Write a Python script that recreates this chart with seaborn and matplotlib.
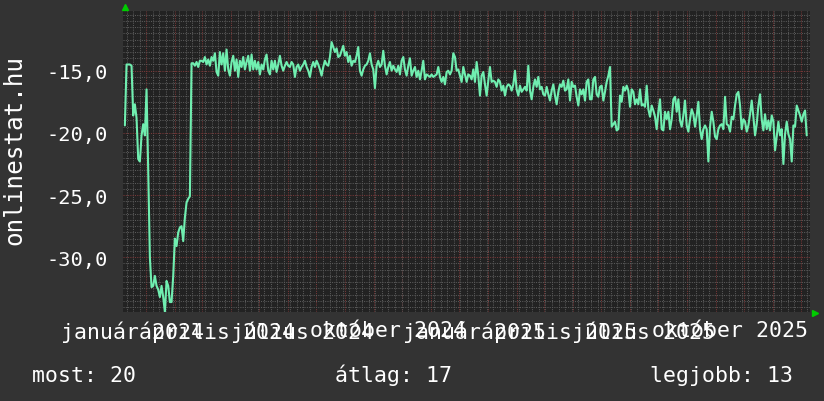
import pandas as pd
import matplotlib
matplotlib.use("Agg")
import matplotlib.pyplot as plt
import matplotlib.dates as mdates
import matplotlib.ticker as mticker
from matplotlib.transforms import ScaledTranslation
import seaborn as sns

# napi értékek (onlinestat.hu helyezés)
values = [
    -19.4, -14.5, -14.5, -14.5, -14.6, -18.6, -17.7, -18.8, -22.1, -22.3,
    -20.2, -19.3, -20.2, -16.5, -23.0, -30.0, -32.4, -32.3, -31.5, -32.3,
    -32.6, -33.2, -32.3, -33.2, -34.4, -31.9, -32.3, -33.6, -33.6, -31.5,
    -28.5, -29.1, -28.0, -27.6, -27.5, -28.7, -26.8, -25.6, -25.3, -25.1,
    -14.4, -14.4, -14.6, -14.3, -14.7, -14.2, -14.2, -14.3, -13.9, -14.5,
    -14.1, -14.6, -13.9, -14.2, -13.6, -15.1, -15.4, -13.5, -14.5, -13.6,
    -15.0, -13.3, -14.9, -15.4, -14.3, -13.8, -15.0, -14.1, -15.5, -14.2,
    -14.7, -13.9, -14.9, -14.3, -13.8, -15.0, -13.7, -14.9, -14.2, -14.9,
    -14.3, -15.3, -14.5, -14.9, -14.1, -13.7, -15.0, -15.3, -14.2, -14.9,
    -14.2, -15.1, -14.5, -13.8, -14.6, -15.0, -14.6, -14.3, -14.6, -14.7,
    -14.3, -14.5, -15.5, -14.7, -14.5, -15.0, -14.7, -14.5, -14.2, -14.7,
    -15.0, -15.5, -14.7, -14.3, -14.7, -14.2, -14.5, -14.9, -15.4, -14.7,
    -14.2, -14.5, -14.6, -13.9, -12.7, -13.1, -13.5, -13.2, -13.9, -13.8,
    -13.4, -13.0, -13.8, -13.5, -14.3, -13.8, -14.6, -14.2, -14.3, -13.8,
    -13.1, -15.0, -15.4, -14.9, -14.6, -14.5, -14.2, -13.6, -14.5, -14.9,
    -16.4, -14.6, -14.2, -14.7, -14.5, -13.4, -14.6, -15.3, -14.7, -14.3,
    -15.0, -14.6, -14.9, -15.1, -14.6, -15.3, -14.2, -13.9, -14.9, -15.4,
    -14.6, -14.0, -15.4, -15.0, -14.7, -15.5, -15.0, -15.7, -15.0, -14.2,
    -15.7, -15.3, -15.4, -15.5, -15.3, -15.5, -15.4, -15.3, -14.7, -15.5,
    -15.9, -15.5, -16.1, -15.1, -15.0, -15.3, -15.0, -13.6, -13.9, -15.0,
    -14.9, -15.4, -15.9, -14.7, -15.3, -15.9, -15.3, -15.4, -15.7, -14.9,
    -15.9, -14.3, -15.4, -17.0, -15.4, -15.1, -16.1, -17.0, -15.8, -14.7,
    -15.9, -15.8, -15.9, -16.3, -15.7, -15.9, -16.6, -16.2, -17.0, -16.3,
    -16.1, -16.2, -16.6, -16.1, -15.0, -16.5, -17.0, -16.2, -16.7, -16.5,
    -16.3, -16.6, -14.6, -16.6, -17.3, -16.3, -15.7, -16.3, -15.5, -16.5,
    -16.3, -16.9, -17.0, -16.3, -16.9, -17.4, -16.6, -16.1, -17.0, -17.7,
    -16.7, -16.1, -16.3, -15.8, -16.6, -16.5, -15.7, -17.4, -15.9, -16.3,
    -16.2, -17.1, -17.8, -16.5, -16.9, -16.5, -17.4, -15.9, -15.7, -17.3,
    -17.3, -15.7, -15.5, -16.9, -17.1, -16.3, -16.2, -17.4, -16.7, -15.9,
    -15.4, -14.7, -19.5, -19.3, -19.1, -19.8, -19.7, -17.0, -17.5, -16.3,
    -16.6, -16.2, -16.6, -17.9, -16.5, -16.7, -17.7, -17.3, -17.7, -16.5,
    -17.8, -17.7, -17.9, -16.2, -18.1, -18.7, -17.8, -18.2, -18.7, -19.7,
    -18.3, -17.3, -19.7, -19.8, -18.3, -18.9, -18.3, -19.7, -18.9, -17.3,
    -17.1, -18.3, -17.3, -19.0, -19.5, -18.6, -17.4, -19.4, -19.9, -18.9,
    -18.1, -18.5, -19.5, -18.6, -17.5, -19.7, -20.5, -19.7, -19.4, -19.7,
    -22.3, -19.5, -18.3, -19.1, -20.3, -20.5, -19.7, -19.4, -19.3, -19.7,
    -17.1, -19.3, -19.4, -19.9, -18.7, -18.9, -17.8, -16.9, -16.7, -17.8,
    -19.7, -18.9, -19.1, -19.9, -19.4, -18.5, -17.4, -18.7, -20.2, -19.3,
    -17.8, -16.9, -18.9, -19.8, -18.5, -19.7, -19.0, -19.8, -18.6, -19.1,
    -21.4, -20.3, -19.1, -20.2, -19.7, -22.5, -20.1, -19.1, -20.1, -20.5,
    -22.3, -19.4, -19.5, -17.8, -18.2, -18.6, -19.1, -18.5, -18.2, -20.2,
]
first_day = "2023-12-09"
last_day = "2025-12-07 12:00"
x_range = ("2023-12-07", "2025-12-11")
y_range = (-34.4, -10.2)

month_names = {1: "január", 4: "április", 7: "július", 10: "október"}
legend_items = [("most", 20), ("átlag", 17), ("legjobb", 13)]
legend_x = [32, 335, 650]
unit_label = "onlinestat.hu"

df = pd.DataFrame({
    "datum": pd.date_range(first_day, last_day, periods=len(values)),
    "ertek": values,
})

sns.set_theme(style="dark")
plt.rcParams["font.family"] = ["DejaVu Sans Mono"]

fig = plt.figure(figsize=(8.24, 4.02), dpi=100, facecolor="#333333")
ax = fig.add_axes([123 / 824, 89 / 402, 687 / 824, 301 / 402])
ax.set_facecolor("#222222")

sns.lineplot(data=df, x="datum", y="ertek", ax=ax, color="#70eeb0", linewidth=1.5, zorder=3)

ax.set_xlim(pd.Timestamp(x_range[0]), pd.Timestamp(x_range[1]))
ax.set_ylim(*y_range)
ax.set_xlabel("")
ax.set_ylabel("")


def month_label(v, pos):
    d = mdates.num2date(v)
    if d.month in month_names:
        return f"{month_names[d.month]} {d.year}"
    return ""


ax.xaxis.set_major_locator(mdates.MonthLocator())
ax.xaxis.set_minor_locator(mdates.WeekdayLocator(byweekday=mdates.MO))
ax.xaxis.set_major_formatter(mticker.FuncFormatter(month_label))
ax.yaxis.set_major_locator(mticker.MultipleLocator(5))
ax.yaxis.set_minor_locator(mticker.MultipleLocator(0.5))
ax.yaxis.set_major_formatter(mticker.FuncFormatter(lambda v, p: f"{v:.1f}".replace(".", ",")))

dots = (0, (1, 1.2))
ax.grid(which="minor", color="#5a5a5a", linestyle=dots, linewidth=0.75)
ax.grid(which="major", color="#7a3838", linestyle=dots, linewidth=0.75)
ax.set_axisbelow(True)

ax.tick_params(which="major", length=3, width=0.75, color="#7a3838", labelcolor="white")
ax.tick_params(which="minor", length=2, width=0.75, color="#5a5a5a")
ax.tick_params(axis="x", which="major", labelsize=15.5, pad=3)
ax.tick_params(axis="y", which="major", labelsize=14.7, pad=8)

for lbl in ax.get_xticklabels():
    lbl.set_transform(lbl.get_transform() + ScaledTranslation(-0.14, 0, fig.dpi_scale_trans))

for s in ax.spines.values():
    s.set_visible(False)

# zöld nyilak a tengelyek végén
ax.plot([0.003], [1.012], marker="^", color="#00cc00", markersize=5, transform=ax.transAxes, clip_on=False)
ax.plot([1.007], [-0.002], marker=">", color="#00cc00", markersize=5, transform=ax.transAxes, clip_on=False)

fig.text(14 / 824, 1 - 150 / 402, unit_label, rotation=90, ha="center", va="center",
         color="white", fontsize=17.5)

for (name, val), lx in zip(legend_items, legend_x):
    fig.text(lx / 824, 20 / 402, f"{name}: {val}", ha="left", va="baseline",
             color="white", fontsize=15.5)

fig.savefig("out.png", dpi=100, facecolor=fig.get_facecolor())
